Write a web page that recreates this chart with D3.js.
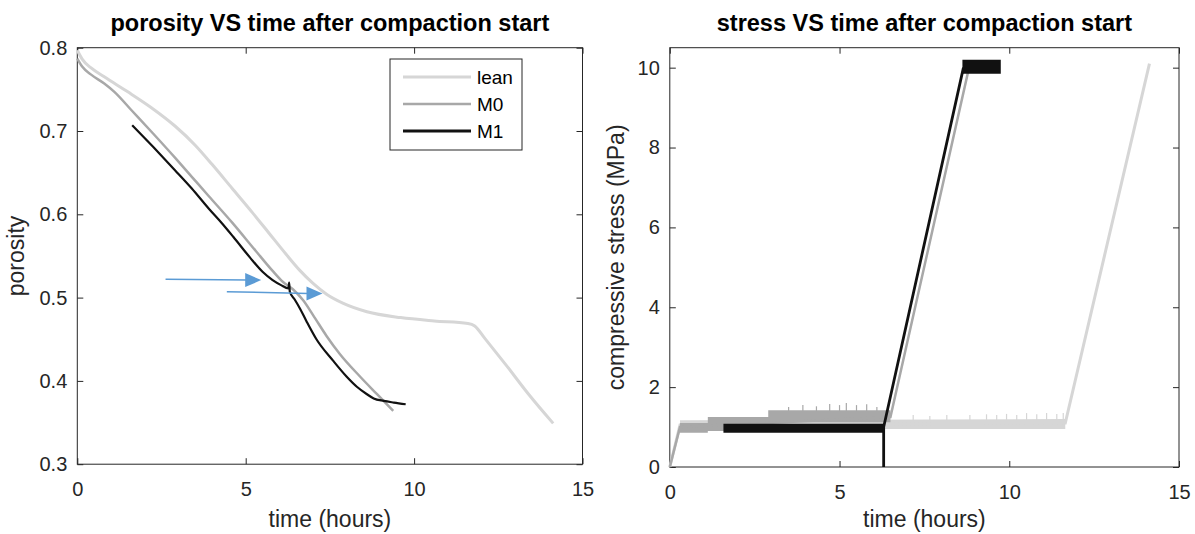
<!DOCTYPE html>
<html>
<head>
<meta charset="utf-8">
<script src="https://cdn.jsdelivr.net/npm/d3@7"></script>
<style>
  body { margin: 0; background: #fff; }
  svg { display: block; font-family: "Liberation Sans", Arial, sans-serif; }
</style>
</head>
<body>
<svg id="chart" width="1195" height="534"></svg>
<script>
// porosity curves (time in hours)
const leanPorT = [0, 0.15, 0.4, 0.8, 1.5, 2.2, 2.9, 3.5, 4.0, 4.6, 5.2, 5.7, 6.2, 6.6, 7.0, 7.4, 7.9, 8.6, 9.6, 10.6, 11.6, 11.8, 12.1, 12.75, 13.4, 14.13];
const leanPor  = [0.797, 0.786, 0.776, 0.765, 0.747, 0.728, 0.706, 0.683, 0.660, 0.631, 0.602, 0.577, 0.552, 0.533, 0.517, 0.504, 0.493, 0.483, 0.476, 0.472, 0.469, 0.466, 0.451, 0.418, 0.384, 0.349];
const m0PorT = [0, 0.15, 0.4, 0.8, 1.1, 1.63, 2.25, 2.9, 3.4, 3.9, 4.6, 5.3, 5.8, 6.1, 6.4, 6.7, 7.0, 7.4, 7.8, 8.4, 8.9, 9.38];
const m0Por  = [0.787, 0.777, 0.768, 0.757, 0.747, 0.724, 0.697, 0.668, 0.645, 0.622, 0.590, 0.556, 0.532, 0.519, 0.510, 0.497, 0.479, 0.454, 0.432, 0.405, 0.384, 0.364];
const m1PorT = [1.63, 2.25, 2.9, 3.4, 3.9, 4.3, 4.63, 5.13, 5.5, 5.8, 6.05, 6.27, 6.29, 6.31, 6.45, 6.61, 6.8, 7.1, 7.6, 8.0, 8.3, 8.6, 8.8, 9.1, 9.4, 9.75];
const m1Por  = [0.707, 0.681, 0.653, 0.631, 0.607, 0.589, 0.573, 0.548, 0.531, 0.521, 0.515, 0.511, 0.518, 0.507, 0.498, 0.487, 0.472, 0.450, 0.424, 0.405, 0.393, 0.384, 0.379, 0.376, 0.374, 0.372];

// annotation arrows [t0, p0, t1, p1]
const arrows = [[2.62, 0.522, 5.46, 0.521], [4.44, 0.507, 7.28, 0.505]];

// stress lines (MPa)
const leanStressT = [0, 0.3, 11.65, 14.13];
const leanStress  = [0, 1.05, 1.1, 10.1];
const m0StressT = [0, 0.3, 6.5, 8.82];
const m0Stress  = [0, 1.0, 1.25, 10.02];
const m1StressT = [6.3, 6.3, 8.65];
const m1Stress  = [0, 1.0, 10.0];

// noisy bands (envelopes of the fluctuation)
const leanBandT  = [0.3, 11.65];
const leanBandLo = [0.95, 0.95];
const leanBandHi = [1.17, 1.2];
const m0BandT  = [0.3, 1.12, 1.12, 2.9, 2.9, 6.5];
const m0BandLo = [0.86, 0.86, 0.9, 0.9, 1.12, 1.12];
const m0BandHi = [1.1, 1.1, 1.25, 1.25, 1.42, 1.42];
const m1BandT  = [1.58, 6.3];
const m1BandLo = [0.86, 0.86];
const m1BandHi = [1.08, 1.08];
const m1TopT  = [8.62, 9.75];
const m1TopLo = [9.85, 9.85];
const m1TopHi = [10.2, 10.2];

// isolated spikes above the bands [time, peak]
const m0SpikeT = [3.5, 3.92, 4.32, 4.71, 5.0, 5.2, 5.5, 5.8, 6.1];
const m0SpikeTop = [1.5, 1.55, 1.52, 1.58, 1.55, 1.6, 1.55, 1.57, 1.5];
const leanSpikeT = [7.17, 7.66, 8.16, 8.84, 9.33, 9.63, 9.92, 10.22, 10.51, 10.81, 11.1, 11.4, 11.59];
const leanSpikeTop = [1.3, 1.28, 1.3, 1.3, 1.32, 1.3, 1.33, 1.3, 1.35, 1.32, 1.35, 1.33, 1.35];

const names = ["lean", "M0", "M1"];
const colors = {lean: "#d6d6d6", M0: "#a8a8a8", M1: "#111111"};
const widths = {lean: 3, M0: 2.5, M1: 2.2};

const axisColor = "#262626";
const svg = d3.select("#chart");
const zip = (ts, vs) => ts.map((t, i) => [t, vs[i]]);

function frame(x, y, yTicks, fmt, title) {
  const [x0, x1] = x.range();
  const [y0, y1] = y.range();
  const g = svg.append("g");
  g.append("g").attr("transform", `translate(0,${y0})`)
    .call(d3.axisBottom(x).tickValues([0, 5, 10, 15]).tickSizeInner(-6).tickSizeOuter(0).tickPadding(18).tickFormat(d3.format("d")));
  g.append("g").attr("transform", `translate(0,${y1})`)
    .call(d3.axisTop(x).tickValues([0, 5, 10, 15]).tickSizeInner(-6).tickSizeOuter(0).tickFormat(""));
  g.append("g").attr("transform", `translate(${x0},0)`)
    .call(d3.axisLeft(y).tickValues(yTicks).tickSizeInner(-6).tickSizeOuter(0).tickPadding(10).tickFormat(fmt));
  g.append("g").attr("transform", `translate(${x1},0)`)
    .call(d3.axisRight(y).tickValues(yTicks).tickSizeInner(-6).tickSizeOuter(0).tickFormat(""));
  g.selectAll(".domain").remove();
  g.selectAll(".tick line").attr("stroke", axisColor);
  g.selectAll(".tick text").attr("fill", axisColor).style("font-size", "20px");
  g.append("rect").attr("x", x0).attr("y", y1).attr("width", x1 - x0).attr("height", y0 - y1)
    .attr("fill", "none").attr("stroke", axisColor).attr("stroke-width", 1);
  svg.append("text").attr("x", (x0 + x1) / 2).attr("y", 31).attr("text-anchor", "middle")
    .style("font-size", "23.5px").style("font-weight", "bold").attr("fill", "#000").text(title);
  svg.append("text").attr("x", (x0 + x1) / 2).attr("y", 527).attr("text-anchor", "middle")
    .style("font-size", "23px").attr("fill", axisColor).text("time (hours)");
  return g;
}

// ---- left: porosity
const xL = d3.scaleLinear([0, 15], [77.3, 582.5]);
const yL = d3.scaleLinear([0.3, 0.8], [464.2, 47.7]);
frame(xL, yL, [0.3, 0.4, 0.5, 0.6, 0.7, 0.8], d3.format(".1f"), "porosity VS time after compaction start");
svg.append("text").attr("transform", `translate(24,${(yL(0.3) + yL(0.8)) / 2}) rotate(-90)`)
  .attr("text-anchor", "middle").style("font-size", "23px").attr("fill", axisColor).text("porosity");

const lineL = d3.line().x(d => xL(d[0])).y(d => yL(d[1])).curve(d3.curveMonotoneX);
const porData = {lean: zip(leanPorT, leanPor), M0: zip(m0PorT, m0Por), M1: zip(m1PorT, m1Por)};
names.forEach(n => {
  svg.append("path").attr("d", lineL(porData[n])).attr("fill", "none")
    .attr("stroke", colors[n]).attr("stroke-width", widths[n]).attr("stroke-linejoin", "round");
});

// arrows
const blue = "#5b9bd5";
arrows.forEach(a => {
  const ax0 = xL(a[0]), ay0 = yL(a[1]), ax1 = xL(a[2]), ay1 = yL(a[3]);
  svg.append("line").attr("x1", ax0).attr("y1", ay0).attr("x2", ax1 - 14).attr("y2", ay1)
    .attr("stroke", blue).attr("stroke-width", 1.5);
  svg.append("path").attr("d", `M${ax1},${ay1} L${ax1 - 16},${ay1 - 7} L${ax1 - 16},${ay1 + 7} Z`)
    .attr("fill", blue);
});

// legend
const leg = svg.append("g").attr("transform", "translate(390,59)");
leg.append("rect").attr("width", 132).attr("height", 91).attr("fill", "#fff")
  .attr("stroke", axisColor).attr("stroke-width", 1);
names.forEach((n, i) => {
  const ly = 18 + i * 27;
  leg.append("line").attr("x1", 13).attr("x2", 81).attr("y1", ly).attr("y2", ly)
    .attr("stroke", colors[n]).attr("stroke-width", n === "M1" ? 3 : widths[n]);
  leg.append("text").attr("x", 87).attr("y", ly + 7).style("font-size", "19px")
    .attr("fill", "#000").text(n);
});

// ---- right: stress
const xR = d3.scaleLinear([0, 15], [669.8, 1179]);
const yR = d3.scaleLinear([0, 10.5], [467, 47.7]);
frame(xR, yR, [0, 2, 4, 6, 8, 10], d3.format("d"), "stress VS time after compaction start");
svg.append("text").attr("transform", `translate(624,${(yR(0) + yR(10.5)) / 2}) rotate(-90)`)
  .attr("text-anchor", "middle").style("font-size", "23px").attr("fill", axisColor)
  .text("compressive stress (MPa)");

const lineR = d3.line().x(d => xR(d[0])).y(d => yR(d[1]));
const areaR = d3.area().x(d => xR(d[0])).y0(d => yR(d[1])).y1(d => yR(d[2]));
const band = (ts, lo, hi) => ts.map((t, i) => [t, lo[i], hi[i]]);

const stressBands = {
  lean: [band(leanBandT, leanBandLo, leanBandHi)],
  M0: [band(m0BandT, m0BandLo, m0BandHi)],
  M1: [band(m1BandT, m1BandLo, m1BandHi), band(m1TopT, m1TopLo, m1TopHi)]
};
const stressSpikes = {
  lean: {t: leanSpikeT, top: leanSpikeTop, base: 1.18},
  M0: {t: m0SpikeT, top: m0SpikeTop, base: 1.4}
};
const stressLines = {lean: zip(leanStressT, leanStress), M0: zip(m0StressT, m0Stress), M1: zip(m1StressT, m1Stress)};

names.forEach(n => {
  stressBands[n].forEach(b => {
    svg.append("path").attr("d", areaR(b)).attr("fill", colors[n]);
  });
  const sp = stressSpikes[n];
  if (sp) {
    svg.append("g").selectAll("line").data(zip(sp.t, sp.top)).join("line")
      .attr("x1", d => xR(d[0])).attr("x2", d => xR(d[0]))
      .attr("y1", yR(sp.base)).attr("y2", d => yR(d[1]))
      .attr("stroke", colors[n]).attr("stroke-width", 1.2);
  }
  svg.append("path").attr("d", lineR(stressLines[n])).attr("fill", "none")
    .attr("stroke", colors[n]).attr("stroke-width", n === "M1" ? 2.8 : widths[n]);
});
// thin drop of M1 to zero
svg.append("path").attr("d", lineR(zip(m1StressT.slice(0, 2), m1Stress.slice(0, 2))))
  .attr("stroke", colors.M1).attr("stroke-width", 1.3);
</script>
</body>
</html>
